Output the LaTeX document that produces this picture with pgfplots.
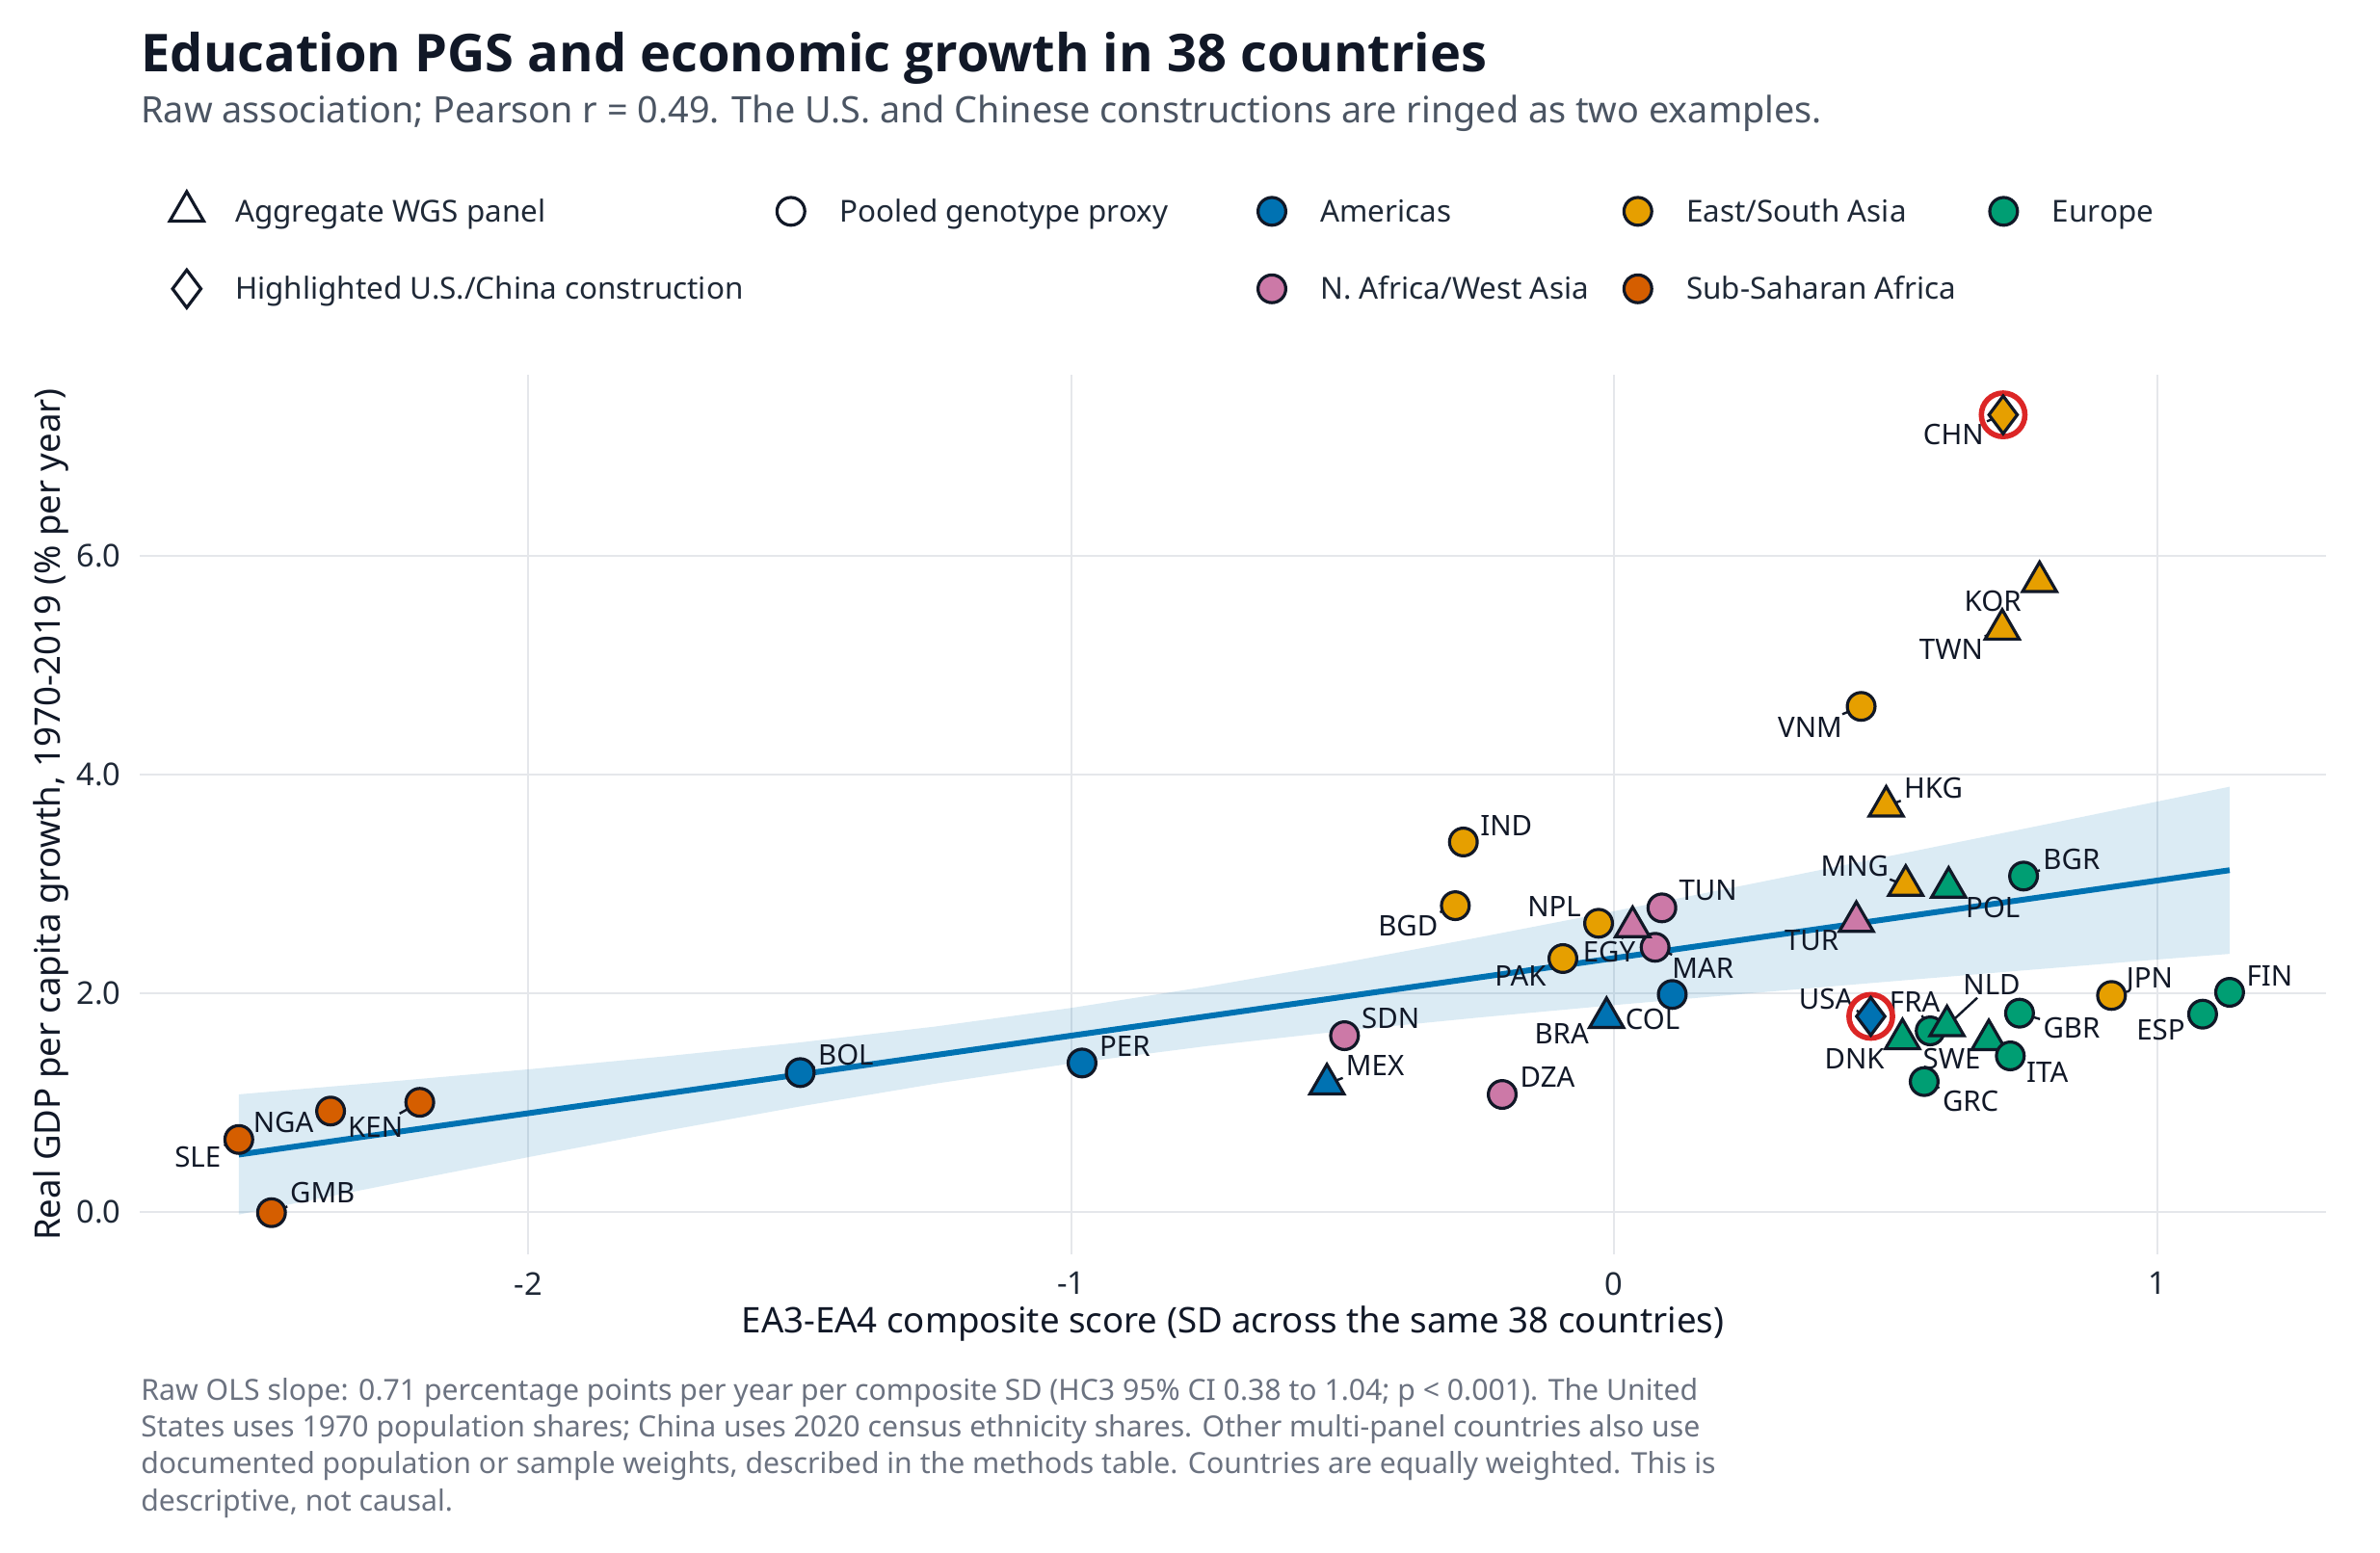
\documentclass[border=0pt]{standalone}
\usepackage{fontspec}
\setmainfont{Noto Sans}
\newfontfamily\titlefont{Open Sans}
\usepackage{pgfplots}
\pgfplotsset{compat=1.18}
\definecolor{cAm}{HTML}{0072B2}
\definecolor{cAs}{HTML}{E69F00}
\definecolor{cEu}{HTML}{009E73}
\definecolor{cNa}{HTML}{CC79A7}
\definecolor{cSs}{HTML}{D55E00}
\definecolor{ink}{HTML}{111827}
\definecolor{tickc}{HTML}{1F2937}
\definecolor{subt}{HTML}{4B5563}
\definecolor{notec}{HTML}{6B7280}
\definecolor{gridc}{HTML}{E5E7EB}
\definecolor{ringc}{HTML}{DC2626}
\newcommand{\lbl}[5]{%
  \node[lbl, xshift=#3bp, yshift=#4bp] (n#5) at (axis cs:#1,#2) {#5};
  \draw[leader] (axis cs:#1,#2) -- (n#5);}
\tikzset{
  lbl/.style={font=\fontsize{14.7bp}{17bp}\selectfont, text=ink, inner sep=1.5bp, anchor=center},
  leader/.style={draw=ink, line width=1.2bp},
}
\pgfplotsset{
  circ/.style={only marks, mark=*, mark size=7.2bp, mark options={draw=ink, line width=1.6bp, fill=#1}, forget plot},
  tri/.style={only marks, mark=triangle*, mark size=10.2bp, mark options={draw=ink, line width=1.6bp, fill=#1}, forget plot},
  dia/.style={only marks, mark=diamond*, mark size=9.8bp, mark options={draw=ink, line width=1.6bp, fill=#1}, forget plot},
}
\begin{document}
\begin{tikzpicture}
\path[use as bounding box] (0,0) rectangle (1235bp,806bp);
\node[anchor=base west, inner sep=0pt, font=\titlefont\bfseries\fontsize{27.1bp}{31bp}\selectfont, text=ink] at (73bp,768.5bp) {Education PGS and economic growth in 38 countries};
\node[anchor=base west, inner sep=0pt, font=\fontsize{18.9bp}{22bp}\selectfont, text=subt] at (73bp,742bp) {Raw association; Pearson r = 0.49. The U.S. and Chinese constructions are ringed as two examples.};
\begin{axis}[
  at={(72.5bp,155bp)}, anchor=south west, scale only axis,
  width=1134.5bp, height=456.5bp,
  xmin=-2.7155, xmax=1.311, ymin=-0.3915, ymax=7.66,
  axis line style={draw=none},
  major tick length=0pt,
  xtick={-2,-1,0,1}, xticklabels={-2,-1,0,1},
  ytick={0,2,4,6}, yticklabels={0.0,2.0,4.0,6.0},
  grid=major, major grid style={draw=gridc, line width=1bp},
  tick label style={font=\fontsize{16.3bp}{19bp}\selectfont, text=tickc},
  xticklabel style={anchor=north, inner sep=0pt, yshift=-9bp},
  yticklabel style={anchor=east, inner sep=0pt, xshift=-9.5bp},
  xlabel={EA3-EA4 composite score (SD across the same 38 countries)},
  ylabel={Real GDP per capita growth, 1970-2019 (\% per year)},
  label style={font=\fontsize{18.3bp}{21bp}\selectfont, text=ink, inner sep=0pt},
  xlabel style={at={(axis description cs:0.5,-0.0898)}, anchor=base},
  ylabel style={at={(axis description cs:-0.03658,0.5)}, anchor=base, rotate=0},
  legend columns=5,
  legend cell align=left,
  legend image code/.code={\path[draw=none, fill=none] (-10bp,-10bp) rectangle (25.2bp,10bp); \draw[#1] plot coordinates {(0bp,0bp)};},
  legend style={at={(axis description cs:0.01269,1.2081)}, anchor=north west, draw=none, fill=none,
    inner sep=0pt, outer sep=0pt, /tikz/column sep=0pt, /tikz/row sep=20.2bp,
    nodes={font=\fontsize{15.7bp}{18bp}\selectfont, text=tickc, inner sep=0pt, text height=11.2bp, text depth=0pt, anchor=west}},
]
% confidence band
\addplot[fill=cAm, fill opacity=0.14, draw=none, forget plot] coordinates {
(-2.533,1.073) (-2.25,1.192) (-2.0,1.302) (-1.75,1.420) (-1.5,1.548) (-1.25,1.694) (-1.0,1.864) (-0.75,2.060) (-0.5,2.277) (-0.25,2.509) (0,2.750) (0.25,2.997) (0.5,3.247) (0.75,3.499) (1.0,3.753) (1.1335,3.889)
(1.1335,2.359) (1.0,2.307) (0.75,2.206) (0.5,2.103) (0.25,1.998) (0,1.890) (-0.25,1.776) (-0.5,1.653) (-0.75,1.515) (-1.0,1.356) (-1.25,1.171) (-1.5,0.962) (-1.75,0.736) (-2.0,0.498) (-2.25,0.253) (-2.533,-0.027)
} -- cycle;
% OLS line
\addplot[cAm, line width=3bp, forget plot] coordinates {(-2.533,0.5216) (1.1335,3.1248)};
% rings
\addplot[only marks, mark=o, mark size=11.3bp, mark options={draw=ringc, line width=2.8bp}, forget plot] coordinates {(0.4726,1.787) (0.7164,7.293)};
% labels and leaders
\lbl{-2.533}{0.66}{-21.3}{-8.9}{SLE}
\lbl{-2.364}{0.92}{-24.5}{-5.8}{NGA}
\lbl{-2.1997}{1.00}{-23}{-12.8}{KEN}
\lbl{-2.4728}{-0.01}{26.5}{10.3}{GMB}
\lbl{-1.499}{1.272}{23.7}{9.2}{BOL}
\lbl{-0.980}{1.36}{22.2}{8.7}{PER}
\lbl{-0.529}{1.167}{25}{9.7}{MEX}
\lbl{-0.4966}{1.61}{23.9}{9.2}{SDN}
\lbl{-0.2062}{1.072}{23.5}{8.9}{DZA}
\lbl{-0.2777}{3.383}{22.3}{8.7}{IND}
\lbl{-0.2925}{2.80}{-24.5}{-10.5}{BGD}
\lbl{-0.0287}{2.639}{-23}{8.7}{NPL}
\lbl{-0.0944}{2.316}{-22}{-9.2}{PAK}
\lbl{0.034}{2.607}{-12.2}{-13.2}{EGY}
\lbl{0.0879}{2.78}{24}{9.2}{TUN}
\lbl{0.0754}{2.419}{24.8}{-10.8}{MAR}
\lbl{0.107}{1.987}{-10.2}{-13}{COL}
\lbl{-0.014}{1.775}{-23.3}{-8.5}{BRA}
\lbl{0.446}{2.654}{-23.2}{-10}{TUR}
\lbl{0.537}{2.985}{-26.5}{10.3}{MNG}
\lbl{0.616}{2.968}{23}{-10.3}{POL}
\lbl{0.754}{3.071}{24.9}{8.8}{BGR}
\lbl{0.501}{3.71}{24.5}{9.2}{HKG}
\lbl{0.4549}{4.624}{-26.5}{-11}{VNM}
\lbl{0.7147}{5.33}{-26.5}{-10.6}{TWN}
\lbl{0.7835}{5.765}{-24.3}{-10.3}{KOR}
\lbl{0.7164}{7.293}{-25.8}{-10.3}{CHN}
\lbl{0.4726}{1.787}{-23.2}{9.2}{USA}
\lbl{0.582}{1.654}{-8}{15}{FRA}
\lbl{0.613}{1.70}{23.2}{21.5}{NLD}
\lbl{0.531}{1.58}{-24.9}{-10.5}{DNK}
\lbl{0.690}{1.572}{-19.2}{-10}{SWE}
\lbl{0.7466}{1.816}{27}{-7.8}{GBR}
\lbl{0.7296}{1.425}{19.2}{-8.3}{ITA}
\lbl{0.571}{1.19}{24.1}{-10.3}{GRC}
\lbl{0.916}{1.978}{19.8}{8}{JPN}
\lbl{1.0838}{1.807}{-21.7}{-8.3}{ESP}
\lbl{1.1335}{2.007}{20.7}{8.7}{FIN}
% Sub-Saharan Africa
\addplot[circ=cSs] coordinates {(-2.533,0.66) (-2.364,0.92) (-2.1997,1.00) (-2.4728,-0.01)};
% Americas
\addplot[circ=cAm] coordinates {(-1.499,1.272) (-0.980,1.36) (0.107,1.987)};
\addplot[tri=cAm] coordinates {(-0.529,1.167) (-0.014,1.775)};
\addplot[dia=cAm] coordinates {(0.4726,1.787)};
% N. Africa / West Asia
\addplot[circ=cNa] coordinates {(-0.4966,1.61) (-0.2062,1.072) (0.0879,2.78) (0.0754,2.419)};
\addplot[tri=cNa] coordinates {(0.034,2.607) (0.446,2.654)};
% East / South Asia
\addplot[circ=cAs] coordinates {(-0.2777,3.383) (-0.2925,2.80) (-0.0287,2.639) (-0.0944,2.316) (0.4549,4.624) (0.916,1.978)};
\addplot[tri=cAs] coordinates {(0.537,2.985) (0.501,3.71) (0.7147,5.33) (0.7835,5.765)};
\addplot[dia=cAs] coordinates {(0.7164,7.293)};
% Europe
\addplot[circ=cEu] coordinates {(0.754,3.071) (0.582,1.654) (0.7466,1.816) (0.571,1.19) (1.0838,1.807) (1.1335,2.007)};
\addplot[tri=cEu] coordinates {(0.616,2.968) (0.613,1.70) (0.531,1.58) (0.690,1.572)};
\addplot[circ=cEu] coordinates {(0.7296,1.425)};
% legend
\addlegendimage{mark=triangle*, mark size=10.2bp, mark options={draw=ink, line width=1.6bp, fill=white}}
\addlegendentry{\makebox[278.3bp][l]{Aggregate WGS panel}}
\addlegendimage{mark=*, mark size=7.2bp, mark options={draw=ink, line width=1.6bp, fill=white}}
\addlegendentry{\makebox[214.4bp][l]{Pooled genotype proxy}}
\addlegendimage{mark=*, mark size=7.2bp, mark options={draw=ink, line width=1.6bp, fill=cAm}}
\addlegendentry{\makebox[154.7bp][l]{Americas}}
\addlegendimage{mark=*, mark size=7.2bp, mark options={draw=ink, line width=1.6bp, fill=cAs}}
\addlegendentry{\makebox[154.6bp][l]{East/South Asia}}
\addlegendimage{mark=*, mark size=7.2bp, mark options={draw=ink, line width=1.6bp, fill=cEu}}
\addlegendentry{Europe}
\addlegendimage{mark=diamond*, mark size=9.8bp, mark options={draw=ink, line width=1.6bp, fill=white}}
\addlegendentry{Highlighted U.S./China construction}
\addlegendimage{empty legend}
\addlegendentry{}
\addlegendimage{mark=*, mark size=7.2bp, mark options={draw=ink, line width=1.6bp, fill=cNa}}
\addlegendentry{N. Africa/West Asia}
\addlegendimage{mark=*, mark size=7.2bp, mark options={draw=ink, line width=1.6bp, fill=cSs}}
\addlegendentry{Sub-Saharan Africa}
\end{axis}
\begin{scope}[every node/.style={anchor=base west, inner sep=0pt, font=\fontsize{15.1bp}{18bp}\selectfont, text=notec}]
\node at (73bp,79.2bp) {Raw OLS slope: 0.71 percentage points per year per composite SD (HC3 95\% CI 0.38 to 1.04; p < 0.001). The United};
\node at (73bp,60.1bp) {States uses 1970 population shares; China uses 2020 census ethnicity shares. Other multi-panel countries also use};
\node at (73bp,41.0bp) {documented population or sample weights, described in the methods table. Countries are equally weighted. This is};
\node at (73bp,21.9bp) {descriptive, not causal.};
\end{scope}
\end{tikzpicture}
\end{document}
